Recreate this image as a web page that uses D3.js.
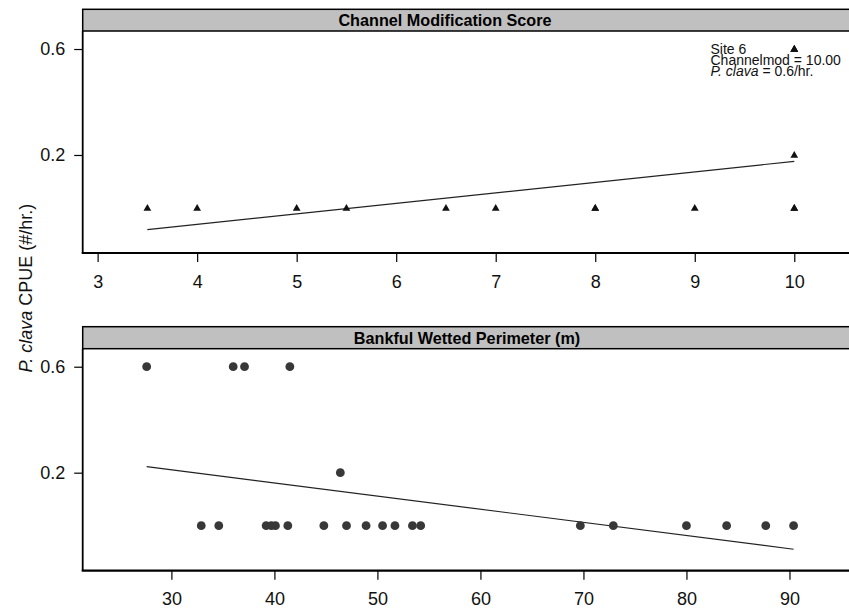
<!DOCTYPE html>
<html>
<head>
<meta charset="utf-8">
<script src="https://cdn.jsdelivr.net/npm/d3@7/dist/d3.min.js"></script>
<style>
  html, body { margin: 0; padding: 0; background: #fff; }
  svg { display: block; font-family: "Liberation Sans", Arial, Helvetica, sans-serif; }
</style>
</head>
<body>
<svg id="chart" width="849" height="612"></svg>
<script>
// Channel modification score (x) and P. clava CPUE (y), one entry per site
const scoreX    = [3.5, 4, 5, 5.5, 6.5, 7, 8, 8, 9, 10, 10, 10, 10, 10, 10];
const scoreCPUE = [0,   0, 0, 0,   0,   0, 0, 0, 0, 0,  0,  0.2, 0.6, 0.6, 0.6];
// Fitted line, end points
const scoreFitX = [3.5, 10];
const scoreFitY = [-0.082, 0.176];
const scoreTicks = [3, 4, 5, 6, 7, 8, 9, 10];

// Bankful wetted perimeter (m) and P. clava CPUE
const perimX = [27.6, 36.0, 37.1, 41.5, 46.4,
                32.9, 34.6, 39.2, 39.7, 40.1, 41.3, 44.8, 47.0, 48.9, 50.5, 51.7, 53.4, 54.2,
                69.7, 72.9, 80.0, 83.9, 87.7, 90.4];
const perimCPUE = [0.6, 0.6, 0.6, 0.6, 0.2,
                   0, 0, 0, 0, 0, 0, 0, 0, 0, 0, 0, 0, 0,
                   0, 0, 0, 0, 0, 0];
const perimFitX = [27.6, 90.4];
const perimFitY = [0.223, -0.089];
const perimTicks = [30, 40, 50, 60, 70, 80, 90];

const yTicks = [0.2, 0.6];

const svg = d3.select("#chart");
const leftEdge = 82.7, rightEdge = 852;

function panel(opts) {
  const g = svg.append("g");
  const x = d3.scaleLinear().domain(opts.xDomain).range([leftEdge, rightEdge]);
  const y = d3.scaleLinear().domain([-0.17, 0.668]).range([opts.bottom, opts.top]);

  // strip with the panel title
  g.append("rect")
    .attr("x", leftEdge).attr("y", opts.stripTop)
    .attr("width", rightEdge - leftEdge + 10).attr("height", opts.top - opts.stripTop)
    .attr("fill", "#c0c0c0").attr("stroke", "#000").attr("stroke-width", 1.5);
  g.append("text")
    .attr("x", opts.titleX).attr("y", opts.stripTop + (opts.top - opts.stripTop) / 2 + 5.8)
    .attr("text-anchor", "middle")
    .attr("font-weight", "bold").attr("font-size", "16.2px")
    .text(opts.title);

  // fitted line
  const line = d3.line().x(d => x(d[0])).y(d => y(d[1]));
  g.append("path")
    .datum(opts.fitX.map((v, i) => [v, opts.fitY[i]]))
    .attr("d", line).attr("fill", "none")
    .attr("stroke", "#222").attr("stroke-width", 1.2);

  // points
  if (opts.shape === "triangle") {
    const sym = d3.symbol().type(d3.symbolTriangle).size(26);
    g.selectAll("path.pt").data(opts.xs).enter().append("path")
      .attr("class", "pt")
      .attr("d", sym)
      .attr("transform", (d, i) => `translate(${x(d)},${y(opts.ys[i]) + 0.5})`)
      .attr("fill", "#111");
  } else {
    g.selectAll("circle.pt").data(opts.xs).enter().append("circle")
      .attr("class", "pt")
      .attr("cx", d => x(d))
      .attr("cy", (d, i) => y(opts.ys[i]))
      .attr("r", 4.4)
      .attr("fill", "#383838");
  }

  // axes
  const xAxis = d3.axisBottom(x).tickValues(opts.xTicks).tickSize(9).tickPadding(13)
    .tickFormat(d3.format("d"));
  const gx = g.append("g").attr("transform", `translate(0,${opts.bottom})`).call(xAxis);
  gx.select(".domain").attr("stroke-width", 2.2).attr("d", `M${leftEdge - 1},0H${rightEdge}`);
  gx.selectAll(".tick line").attr("stroke-width", 1.2);
  gx.selectAll("text").attr("font-size", "18px").attr("font-family", null).attr("fill", "#111");

  const yAxis = d3.axisLeft(y).tickValues(yTicks).tickSize(8.5).tickPadding(9)
    .tickFormat(d3.format(".1f"));
  const gy = g.append("g").attr("transform", `translate(${leftEdge},0)`).call(yAxis);
  gy.select(".domain").attr("stroke-width", 1.8).attr("d", `M0,${opts.top}V${opts.bottom}`);
  gy.selectAll(".tick line").attr("stroke-width", 1.2);
  gy.selectAll("text").attr("font-size", "18px").attr("font-family", null).attr("fill", "#111");

  return { x, y, g };
}

const scorePanel = panel({
  xDomain: [2.85, 10.58], xTicks: scoreTicks,
  stripTop: 9.3, top: 31, bottom: 253,
  title: "Channel Modification Score", titleX: 445,
  xs: scoreX, ys: scoreCPUE, fitX: scoreFitX, fitY: scoreFitY, shape: "triangle"
});

panel({
  xDomain: [21.39, 96.07], xTicks: perimTicks,
  stripTop: 326.7, top: 348.7, bottom: 570.7,
  title: "Bankful Wetted Perimeter (m)", titleX: 467,
  xs: perimX, ys: perimCPUE, fitX: perimFitX, fitY: perimFitY, shape: "circle"
});

// note on the highest site in the upper panel
const note = scorePanel.g.append("text").attr("font-size", "14px").attr("fill", "#111");
note.append("tspan").attr("x", 710.5).attr("y", 54).text("Site 6");
note.append("tspan").attr("x", 710.5).attr("y", 65).text("Channelmod = 10.00");
const l3 = note.append("tspan").attr("x", 710.5).attr("y", 75.5);
l3.append("tspan").attr("font-style", "italic").text("P. clava");
l3.append("tspan").text(" = 0.6/hr.");

// shared y-axis title
const yl = svg.append("text")
  .attr("transform", "translate(32,288) rotate(-90)")
  .attr("text-anchor", "middle").attr("font-size", "18px").attr("fill", "#111");
yl.append("tspan").attr("font-style", "italic").text("P. clava");
yl.append("tspan").text(" CPUE (#/hr.)");
</script>
</body>
</html>
